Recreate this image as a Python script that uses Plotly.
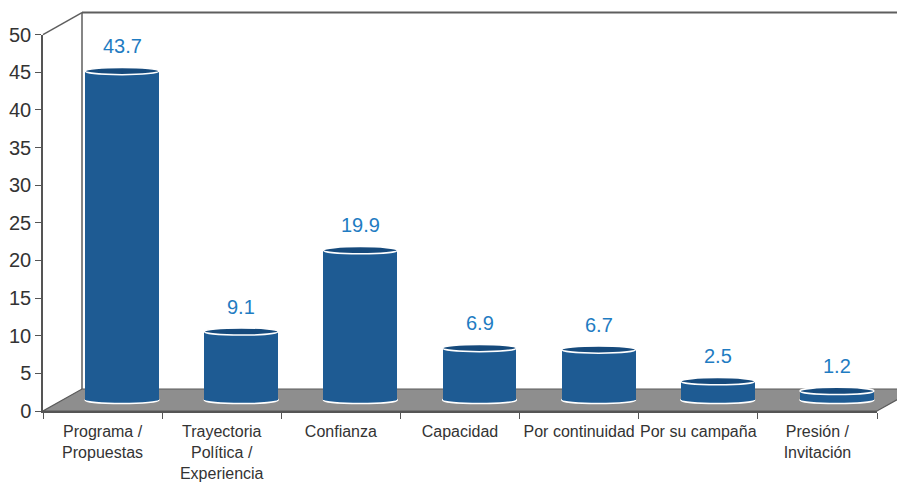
import plotly.graph_objects as go

# ---- data ----
categories = ["Programa /<br>Propuestas", "Trayectoria<br>Política /<br>Experiencia", "Confianza",
              "Capacidad", "Por continuidad", "Por su campaña", "Presión /<br>Invitación"]
values = [43.7, 9.1, 19.9, 6.9, 6.7, 2.5, 1.2]
y_ticks = [0, 5, 10, 15, 20, 25, 30, 35, 40, 45, 50]

# ---- geometry (pixels) ----
PAGE_PAD = 8                               # default body margin of the html page
W, H = 905 - PAGE_PAD, 482 - PAGE_PAD
ML, MR, MT, MB = 43 - PAGE_PAD, 0, 11 - PAGE_PAD, 71
PW, PH = W - ML - MR, H - MT - MB          # plot area
FRONT_W = 834                              # front x-axis length
FRONT_H = 376.4                            # 0..50 height on front plane
DX, DY = 39, 22                            # depth offset to back plane
MID = 0.5                                  # cylinders sit at mid depth
YMAX = 50
n = len(values)
cat_px = FRONT_W / n
unit_px = FRONT_H / YMAX
BAR_W = 0.62
ELL = 3.6 / unit_px                        # half height of ellipse (y units)

BAR_COLOR = "#1e5b93"
TOP_COLOR = "#164a7c"
LABEL_COLOR = "#1f7cc2"
AXIS_COLOR = "#555555"
FONT = "Liberation Sans, Arial, sans-serif"

idx = list(range(n))

fig = go.Figure()

# invisible trace to establish the categorical front axes
fig.add_trace(go.Scatter(x=categories, y=[None] * n, xaxis="x", yaxis="y",
                         mode="markers", showlegend=False, hoverinfo="skip"))

# cylinder bodies on mid-depth axes
fig.add_trace(go.Bar(x=idx, y=values, xaxis="x2", yaxis="y2", width=BAR_W,
                     marker=dict(color=BAR_COLOR, line=dict(width=0)),
                     showlegend=False, hoverinfo="skip"))

shapes = []
# back wall / floor decorations in paper coordinates
fx = lambda px: px / PW
fy = lambda py: py / PH
floor_path = (f"M {fx(0)},{fy(0)} L {fx(FRONT_W)},{fy(0)} L {fx(FRONT_W + DX)},{fy(DY)} "
              f"L {fx(DX)},{fy(DY)} Z")
shapes.append(dict(type="path", xref="paper", yref="paper", path=floor_path,
                   fillcolor="#8e8e8e", line=dict(color="#5a5a5a", width=1.2), layer="below"))
# back wall top line
shapes.append(dict(type="line", xref="paper", yref="paper", x0=fx(DX), x1=1.05,
                   y0=fy(FRONT_H + DY), y1=fy(FRONT_H + DY),
                   line=dict(color="#5e5e5e", width=2), layer="below"))
# back wall left vertical
shapes.append(dict(type="line", xref="paper", yref="paper", x0=fx(DX), x1=fx(DX),
                   y0=fy(DY), y1=fy(FRONT_H + DY),
                   line=dict(color="#5e5e5e", width=1.5), layer="below"))
# top-left diagonal
shapes.append(dict(type="line", xref="paper", yref="paper", x0=0, x1=fx(DX),
                   y0=fy(FRONT_H), y1=fy(FRONT_H + DY),
                   line=dict(color="#5e5e5e", width=1.5), layer="below"))

# cylinder ends
for i, v in zip(idx, values):
    shapes.append(dict(type="circle", xref="x2", yref="y2",
                       x0=i - BAR_W / 2, x1=i + BAR_W / 2, y0=-ELL, y1=ELL,
                       fillcolor=BAR_COLOR, line=dict(color="white", width=1.5), layer="below"))
    shapes.append(dict(type="circle", xref="x2", yref="y2",
                       x0=i - BAR_W / 2, x1=i + BAR_W / 2, y0=v - ELL, y1=v + ELL,
                       fillcolor=TOP_COLOR, line=dict(color="white", width=1.5), layer="above"))

annotations = [dict(x=i, y=v, xref="x2", yref="y2", text=f"{v:.1f}", showarrow=False,
                    yanchor="bottom", yshift=12,
                    font=dict(family=FONT, size=20, color=LABEL_COLOR))
               for i, v in zip(idx, values)]

x2_lo = -0.5 - DX * MID / cat_px
x2_hi = x2_lo + PW / cat_px
y2_lo = -DY * MID / unit_px
y2_hi = y2_lo + PH / unit_px

fig.update_layout(
    width=W, height=H,
    margin=dict(l=ML, r=MR, t=MT, b=MB, pad=0, autoexpand=False),
    paper_bgcolor="white", plot_bgcolor="rgba(0,0,0,0)",
    font=dict(family=FONT, color="#333333"),
    bargap=0,
    showlegend=False,
    shapes=shapes,
    annotations=annotations,
    xaxis=dict(type="category", domain=[0, FRONT_W / PW], range=[-0.5, n - 0.5],
               automargin=False, tickangle=0, ticklabelstandoff=5,
               showgrid=False, zeroline=False, showline=True, linecolor=AXIS_COLOR, linewidth=1.5,
               ticks="outside", tickson="boundaries", ticklen=6, tickcolor=AXIS_COLOR, tickwidth=1.2,
               tickfont=dict(family=FONT, size=16, color="#333333"), fixedrange=True),
    yaxis=dict(domain=[0, FRONT_H / PH], range=[0, YMAX], tickvals=y_ticks,
               automargin=False,
               showgrid=False, zeroline=False, showline=True, linecolor=AXIS_COLOR, linewidth=1.5,
               ticks="outside", ticklen=6, tickcolor=AXIS_COLOR, tickwidth=1.2,
               tickfont=dict(family=FONT, size=20, color="#333333"), fixedrange=True),
    xaxis2=dict(anchor="y2", domain=[0, 1], range=[x2_lo, x2_hi], visible=False, fixedrange=True),
    yaxis2=dict(anchor="x2", domain=[0, 1], range=[y2_lo, y2_hi], visible=False, fixedrange=True),
)

fig.write_html("out.html")
